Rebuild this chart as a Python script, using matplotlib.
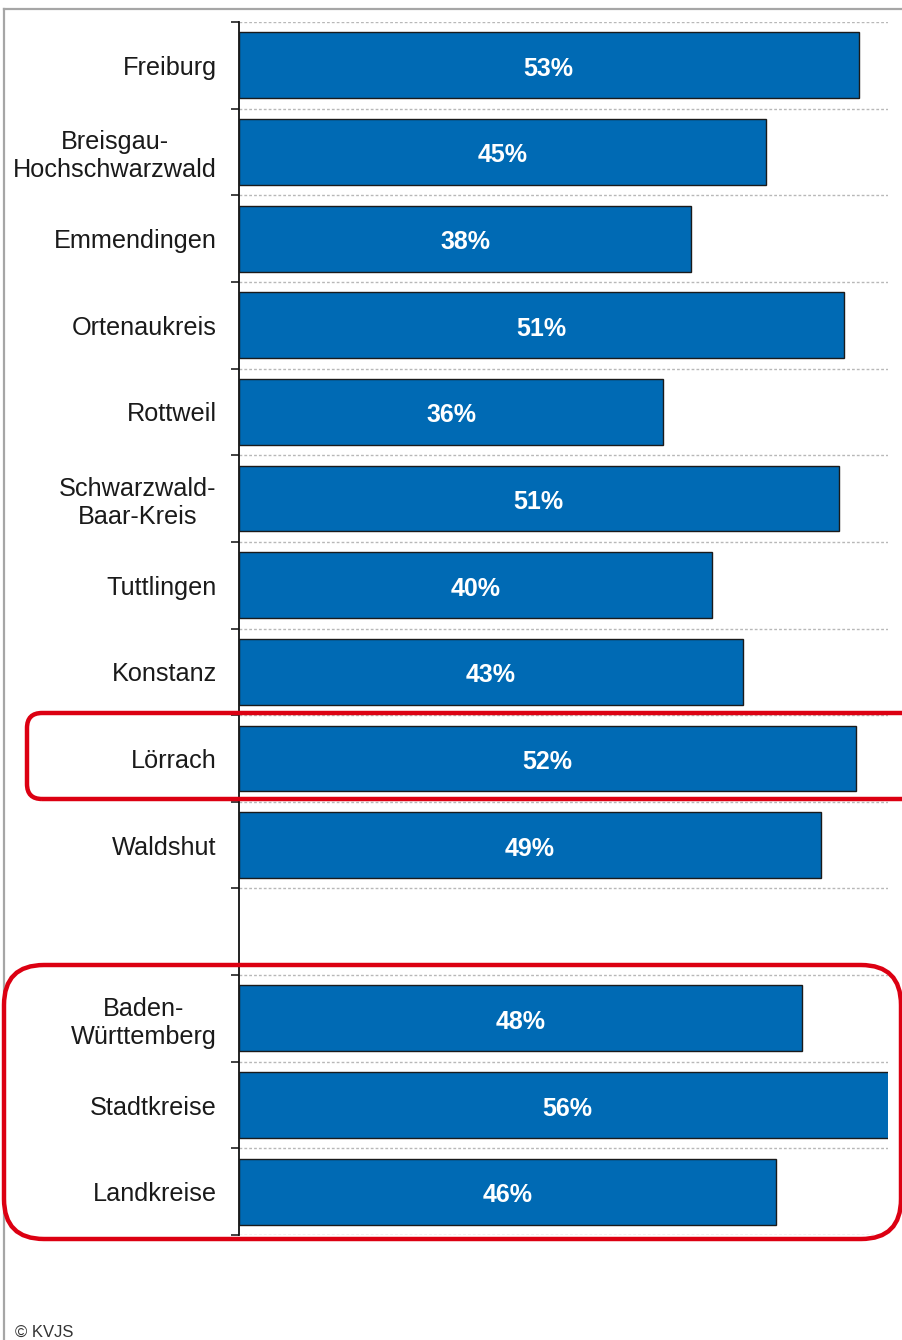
import matplotlib
matplotlib.use("Agg")
import matplotlib.pyplot as plt
from matplotlib.patches import FancyBboxPatch
from matplotlib.lines import Line2D

plt.rcParams["font.family"] = ["Liberation Sans", "DejaVu Sans"]

# Daten
regions = ["Freiburg", "Breisgau-\nHochschwarzwald", "Emmendingen", "Ortenaukreis",
           "Rottweil", "Schwarzwald-\nBaar-Kreis", "Tuttlingen", "Konstanz",
           "Lörrach", "Waldshut"]
region_values = [52.6, 44.7, 38.4, 51.4, 36.0, 50.9, 40.2, 42.8, 52.4, 49.4]

totals = ["Baden-\nWürttemberg", "Stadtkreise", "Landkreise"]
total_values = [47.8, 55.8, 45.6]

labels = regions + totals
values = region_values + total_values
# eine leere Zeile zwischen Regionen und Gesamtwerten
positions = list(range(len(regions))) + [len(regions) + 1 + i for i in range(len(totals))]
n_slots = len(regions) + 1 + len(totals)

W, H = 903, 1340
fig = plt.figure(figsize=(W / 100, H / 100), dpi=100)
ax = fig.add_axes([239 / W, 1 - 1235 / H, (888 - 239) / W, (1235 - 22) / H])

ax.barh(positions, values, height=0.76, color="#006AB4", edgecolor="#1a1a1a", linewidth=1.0, zorder=3)
for p, v in zip(positions, values):
    ax.annotate(f"{v:.0f}%", (v / 2, p), xytext=(0, -2.5), textcoords="offset points",
                ha="center", va="center", color="white",
                fontsize=18, fontweight="bold", zorder=4)

ax.set_xlim(0, 55.1)
ax.set_ylim(n_slots - 0.5, -0.5)

# Striche und Gitter an den Grenzen der Kategorien
ax.set_yticks([i - 0.5 for i in range(n_slots + 1)])
ax.set_yticklabels([])
ax.tick_params(axis="y", which="major", direction="out", length=6, width=1.3, color="#333333")
ax.set_yticks(positions, minor=True)
ax.set_yticklabels(labels, minor=True, fontsize=18.2, color="#1a1a1a", multialignment="center")
ax.tick_params(axis="y", which="minor", length=0, pad=16)
ax.set_xticks([])
ax.grid(axis="y", which="major", color="#b8b8b8", linestyle=(0, (2, 1.5)), linewidth=1.0, zorder=0)

for s in ["top", "right", "bottom"]:
    ax.spines[s].set_visible(False)
ax.spines["left"].set_linewidth(1.3)
ax.spines["left"].set_color("#111111")

# grauer Rahmen
px = fig.dpi_scale_trans
fig.add_artist(Line2D([0.04, 9.1], [(H - 9) / 100, (H - 9) / 100], transform=px, color="#a6a6a6", lw=1.6))
fig.add_artist(Line2D([0.04, 0.04], [-0.1, (H - 9) / 100], transform=px, color="#a6a6a6", lw=1.6))

# rote Markierungen
fig.add_artist(FancyBboxPatch((0.27, (H - 799) / 100), 8.9, 0.86,
                              boxstyle="round,pad=0,rounding_size=0.15", transform=px,
                              fill=False, edgecolor="#dc0012", linewidth=3.2, zorder=10))
fig.add_artist(FancyBboxPatch((0.04, (H - 1239) / 100), 8.97, 2.74,
                              boxstyle="round,pad=0,rounding_size=0.40", transform=px,
                              fill=False, edgecolor="#dc0012", linewidth=3.2, zorder=10))

fig.text(15 / W, 1 - 1325 / H, "© KVJS", fontsize=12, color="#333333", va="top", ha="left")

fig.savefig("out.png", dpi=100)
plt.close(fig)
